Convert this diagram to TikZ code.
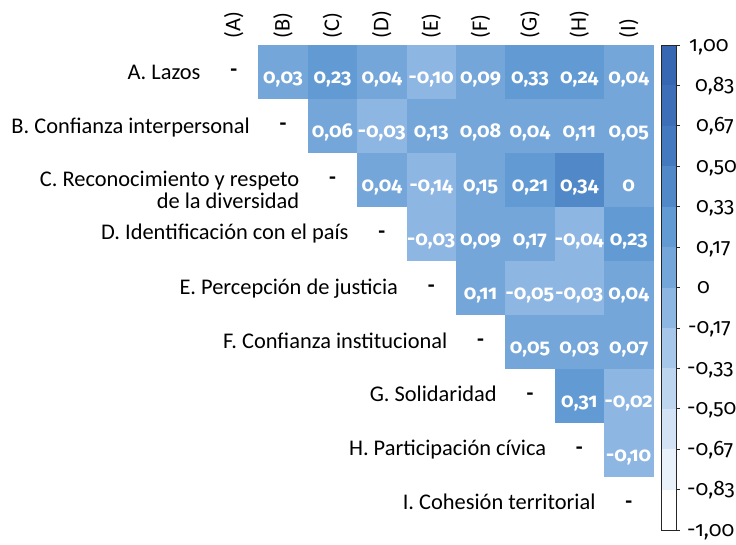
\documentclass[tikz,border=0pt]{standalone}
\usepackage{fontspec}
\setmainfont{Carlito}
\newfontfamily\numfont{Fira Sans}[Numbers=OldStyle]
\definecolor{cA}{HTML}{74A6DA}
\definecolor{cB}{HTML}{629BD4}
\definecolor{cC}{HTML}{5088C8}
\definecolor{cN}{HTML}{8EB6E2}
\definecolor{b1}{HTML}{3767B2}
\definecolor{b2}{HTML}{3C6FB8}
\definecolor{b3}{HTML}{4279BF}
\definecolor{b8}{HTML}{A6C6EA}
\definecolor{b9}{HTML}{BDD5EF}
\definecolor{b10}{HTML}{D3E3F5}
\definecolor{b11}{HTML}{E9F1FA}
\definecolor{b12}{HTML}{FFFFFF}
\begin{document}
\begin{tikzpicture}[x=1pt,y=-1pt,
  txt/.style={font=\fontsize{22.4}{26}\selectfont, inner sep=0pt},
  lbl/.style={txt, anchor=base east},
  dashmark/.style={font=\bfseries\fontsize{22.4}{26}\selectfont, inner sep=0pt, anchor=base},
  hdr/.style={txt, rotate=90, anchor=west},
  val/.style={font=\numfont\bfseries\fontsize{20}{24}\selectfont, text=white, inner sep=0pt, anchor=base},
  cellbox/.style={minimum width=49.6pt, minimum height=54.2pt, inner sep=0pt, outer sep=0pt, anchor=north west},
  band/.style={minimum width=15pt, minimum height=40.7pt, inner sep=0pt, outer sep=0pt, anchor=north west},
  cblab/.style={font=\numfont\fontsize{21}{24}\selectfont, inner sep=0pt, anchor=base west}]
\useasboundingbox (0,0) rectangle (736,544);
\def\cw{49.375}
\def\rh{54}
% headers
\foreach \L [count=\j from 0] in {A,B,C,D,E,F,G,H,I}{
  \node[hdr] (h\L) at ({209+\cw*(\j+0.5)}, 38.5) {(\L)};
}
% cells
\foreach \i/\j/\v/\c in {
 0/1/{0,03}/cA, 0/2/{0,23}/cB, 0/3/{0,04}/cA, 0/4/{-0,10}/cN, 0/5/{0,09}/cA, 0/6/{0,33}/cB, 0/7/{0,24}/cB, 0/8/{0,04}/cA,
 1/2/{0,06}/cA, 1/3/{-0,03}/cN, 1/4/{0,13}/cA, 1/5/{0,08}/cA, 1/6/{0,04}/cA, 1/7/{0,11}/cA, 1/8/{0,05}/cA,
 2/3/{0,04}/cA, 2/4/{-0,14}/cN, 2/5/{0,15}/cA, 2/6/{0,21}/cB, 2/7/{0,34}/cC, 2/8/{0}/cA,
 3/4/{-0,03}/cN, 3/5/{0,09}/cA, 3/6/{0,17}/cA, 3/7/{-0,04}/cN, 3/8/{0,23}/cB,
 4/5/{0,11}/cA, 4/6/{-0,05}/cN, 4/7/{-0,03}/cN, 4/8/{0,04}/cA,
 5/6/{0,05}/cA, 5/7/{0,03}/cA, 5/8/{0,07}/cA,
 6/7/{0,31}/cB, 6/8/{-0,02}/cN,
 7/8/{-0,10}/cN}{
  \node[cellbox, fill=\c] (c\i\j) at ({209+\cw*\j}, {45+\rh*\i}) {};
  \node[val] (v\i\j) at ({209+\cw*(\j+0.5)}, {45+\rh*\i+\rh/2+11}) {\v};
}
% diagonal dashes and row labels
\foreach \i in {0,...,8}{
  \node[dashmark] (d\i) at ({209+\cw*(\i+0.5)}, {45+\rh*\i+\rh/2+4.5}) {-};
}
\node[lbl] (lA) at ({209+\cw*0.5-33}, {45+\rh*0+\rh/2+7.3}) {A. Lazos};
\node[lbl] (lB) at ({209+\cw*1.5-33}, {45+\rh*1+\rh/2+7}) {B. Confianza interpersonal};
\node[lbl] (lC) at ({209+\cw*2.5-33}, {45+\rh*2+\rh/2+6.5}) {C. Reconocimiento y respeto};
\node[lbl] (lC2) at ({209+\cw*2.5-33}, {45+\rh*2+\rh/2+28}) {de la diversidad};
\node[lbl] (lD) at ({209+\cw*3.5-33}, {45+\rh*3+\rh/2+5.5}) {D. Identificación con el país};
\node[lbl] (lE) at ({209+\cw*4.5-33}, {45+\rh*4+\rh/2+6}) {E. Percepción de justicia};
\node[lbl] (lF) at ({209+\cw*5.5-33}, {45+\rh*5+\rh/2+6}) {F. Confianza institucional};
\node[lbl] (lG) at ({209+\cw*6.5-33}, {45+\rh*6+\rh/2+5.5}) {G. Solidaridad};
\node[lbl] (lH) at ({209+\cw*7.5-33}, {45+\rh*7+\rh/2+5.5}) {H. Participación cívica};
\node[lbl] (lI) at ({209+\cw*8.5-33}, {45+\rh*8+\rh/2+5}) {I. Cohesión territorial};
% colour bar
\def\bh{40.4167}
\foreach \c [count=\k from 0] in {b1,b2,b3,cC,cB,cA,cN,b8,b9,b10,b11,b12}{
  \node[band, fill=\c] (band\k) at (661, {45+\bh*\k}) {};
}
\node[draw=black!85, line width=1pt, minimum width=15pt, minimum height=485pt, inner sep=0pt, outer sep=0pt, anchor=north west] (cbar) at (661,45) {};
\foreach \t/\x [count=\k from 0] in {{1,00}/689, {0,83}/695, {0,67}/696, {0,50}/696, {0,33}/696, {0,17}/696, {0}/697, {-0,17}/688, {-0,33}/687, {-0,50}/687, {-0,67}/687, {-0,83}/687, {-1,00}/687}{
  \coordinate (tk\k) at (676, {45+\bh*\k});
  \draw[black!85, line width=0.8pt] (tk\k) -- ++(4,0);
  \node[cblab] (t\k) at (\x, {45+\bh*\k+6}) {\t};
}
\end{tikzpicture}
\end{document}
